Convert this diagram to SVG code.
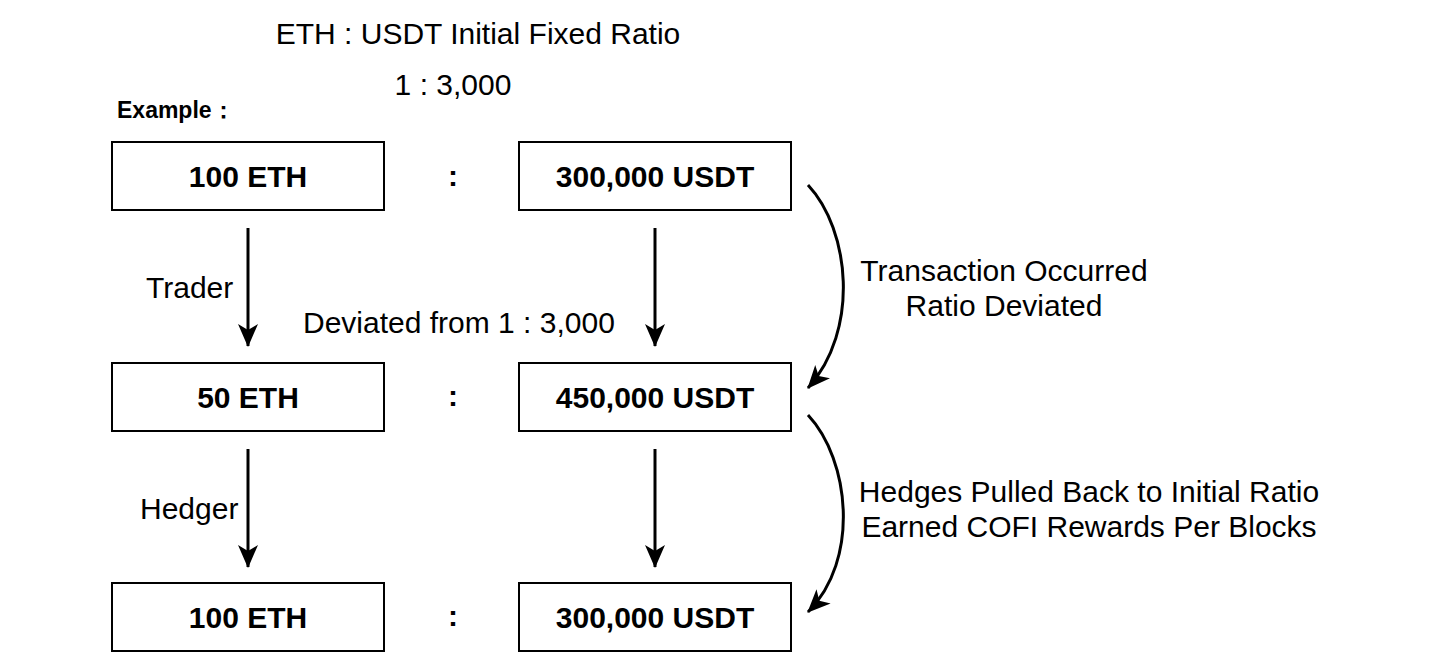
<svg xmlns="http://www.w3.org/2000/svg" width="1429" height="670" viewBox="0 0 1429 670">
<style>
text{font-family:"Liberation Sans",Arial,sans-serif;fill:#000}
.box{fill:#fff;stroke:#000;stroke-width:2}
.bt{font-size:30px;font-weight:bold;text-anchor:middle}
.lab{font-size:30px}
.c{text-anchor:middle}
.ln{fill:none;stroke:#000;stroke-width:3}
</style>
<defs>
<marker id="ah" markerWidth="24" markerHeight="22" refX="22" refY="11" orient="auto" markerUnits="userSpaceOnUse" viewBox="0 0 24 22">
<path d="M0,1 L23,11 L0,21 L6,11 Z" fill="#000"/>
</marker>
</defs>
<rect width="1429" height="670" fill="#fff"/>
<g id="title">
<text class="lab c" x="478" y="44">ETH : USDT Initial Fixed Ratio</text>
<text class="lab c" x="453" y="95">1 : 3,000</text>
<text x="117" y="118" font-size="23" font-weight="bold">Example：</text>
</g>
<g id="n1"><rect class="box" x="112" y="142" width="272" height="68"/><text class="bt" x="248" y="187">100 ETH</text></g>
<g id="n2"><rect class="box" x="519" y="142" width="272" height="68"/><text class="bt" x="655" y="187">300,000 USDT</text></g>
<g id="n3"><rect class="box" x="112" y="363" width="272" height="68"/><text class="bt" x="248" y="408">50 ETH</text></g>
<g id="n4"><rect class="box" x="519" y="363" width="272" height="68"/><text class="bt" x="655" y="408">450,000 USDT</text></g>
<g id="n5"><rect class="box" x="112" y="583" width="272" height="68"/><text class="bt" x="248" y="628">100 ETH</text></g>
<g id="n6"><rect class="box" x="519" y="583" width="272" height="68"/><text class="bt" x="655" y="628">300,000 USDT</text></g>
<g id="colons">
<text class="bt" x="453" y="186">:</text>
<text class="bt" x="453" y="406">:</text>
<text class="bt" x="453" y="626">:</text>
</g>
<g id="connectors">
<line class="ln" x1="248" y1="228" x2="248" y2="346" marker-end="url(#ah)"/>
<line class="ln" x1="655" y1="228" x2="655" y2="346" marker-end="url(#ah)"/>
<line class="ln" x1="248" y1="449" x2="248" y2="567" marker-end="url(#ah)"/>
<line class="ln" x1="655" y1="449" x2="655" y2="567" marker-end="url(#ah)"/>
<path class="ln" d="M808,185 C850,230 860,330 808,388" marker-end="url(#ah)"/>
<path class="ln" d="M808,415 C850,460 860,560 808,612" marker-end="url(#ah)"/>
</g>
<g id="labels">
<text class="lab" x="146" y="298">Trader</text>
<text class="lab" x="303" y="333">Deviated from 1 : 3,000</text>
<text class="lab" x="140" y="519">Hedger</text>
<text class="lab c" x="1004" y="281">Transaction Occurred</text>
<text class="lab c" x="1004" y="316">Ratio Deviated</text>
<text class="lab c" x="1089" y="502">Hedges Pulled Back to Initial Ratio</text>
<text class="lab c" x="1089" y="537">Earned COFI Rewards Per Blocks</text>
</g>
</svg>
